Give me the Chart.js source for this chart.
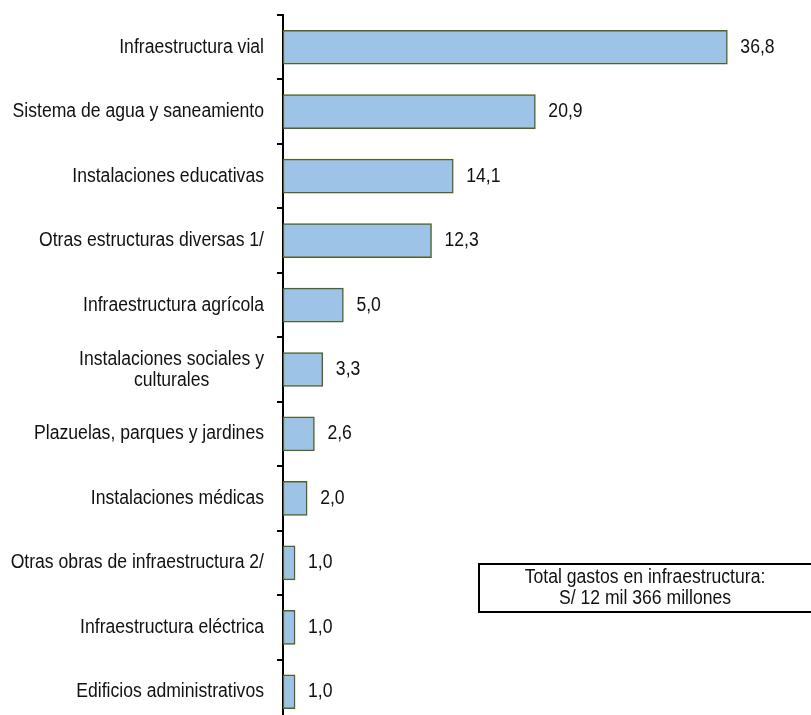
<!DOCTYPE html>
<html>
<head>
<meta charset="utf-8">
<script src="https://cdn.jsdelivr.net/npm/chart.js@4.4.0/dist/chart.umd.min.js"></script>
<style>
  html, body { margin: 0; padding: 0; background: #fff; overflow: hidden; }
  #wrap { position: relative; width: 811px; height: 724px; }
</style>
</head>
<body>
<div id="wrap">
  <canvas id="chart"></canvas>
</div>
<script>
const categories = [
  ["Infraestructura vial"],
  ["Sistema de agua y saneamiento"],
  ["Instalaciones educativas"],
  ["Otras estructuras diversas 1/"],
  ["Infraestructura agrícola"],
  ["Instalaciones sociales y", "culturales"],
  ["Plazuelas, parques y jardines"],
  ["Instalaciones médicas"],
  ["Otras obras de infraestructura 2/"],
  ["Infraestructura eléctrica"],
  ["Edificios administrativos"]
];
const shares = [36.8, 20.9, 14.1, 12.3, 5.0, 3.3, 2.6, 2.0, 1.0, 1.0, 1.0];
const noteLines = ["Total gastos en infraestructura:", "S/ 12 mil 366 millones"];
const xMax = 40;

const FONT = "20px 'Liberation Sans', Arial, sans-serif";
const SX = 0.88; // narrow look of the original text

function narrowText(ctx, text, x, y, align) {
  ctx.save();
  ctx.translate(x, y);
  ctx.scale(SX, 1);
  ctx.textAlign = align;
  ctx.fillText(text, 0, 0);
  ctx.restore();
}

// category labels, bar values and the note box drawn by hand
const textPlugin = {
  id: "textPlugin",
  afterDraw(chart) {
    const ctx = chart.ctx;
    const yScale = chart.scales.y;
    const meta = chart.getDatasetMeta(0);
    ctx.save();
    ctx.font = FONT;
    ctx.fillStyle = "#111";
    ctx.textBaseline = "middle";
    const right = yScale.right - 19;
    categories.forEach((lines, i) => {
      const cy = yScale.getPixelForValue(i);
      const lh = 21;
      const y0 = cy - (lines.length - 1) * lh / 2;
      const widest = Math.max(...lines.map(l => ctx.measureText(l).width)) * SX;
      const center = right - widest / 2;
      lines.forEach((l, j) => narrowText(ctx, l, center, y0 + j * lh, "center"));
    });
    meta.data.forEach((bar, i) => {
      narrowText(ctx, shares[i].toFixed(1).replace(".", ","), bar.x + 13, bar.y, "left");
    });

    // note box
    const bx = 479, by = 564, bw = 340, bh = 48;
    ctx.fillStyle = "#fff";
    ctx.fillRect(bx, by, bw, bh);
    ctx.strokeStyle = "#000";
    ctx.lineWidth = 2;
    ctx.strokeRect(bx, by, bw, bh);
    ctx.fillStyle = "#111";
    noteLines.forEach((l, j) => narrowText(ctx, l, 645, by + 13 + j * 21, "center"));
    ctx.restore();
  }
};

new Chart(document.getElementById("chart"), {
  type: "bar",
  data: {
    labels: categories,
    datasets: [{
      data: shares,
      backgroundColor: "#9dc3e6",
      borderColor: "#4f6228",
      borderWidth: 1.5,
      borderSkipped: false,
      barThickness: 34
    }]
  },
  options: {
    indexAxis: "y",
    responsive: true,
    maintainAspectRatio: false,
    animation: false,
    layout: { padding: { top: 15, right: 45, left: 0, bottom: 0 } },
    plugins: { legend: { display: false }, tooltip: { enabled: false } },
    scales: {
      x: { display: false, min: 0, max: xMax },
      y: {
        offset: true,
        ticks: { display: false },
        grid: {
          offset: true,
          drawOnChartArea: false,
          drawTicks: true,
          tickLength: 6,
          color: "#000",
          lineWidth: 2
        },
        border: { display: true, color: "#000", width: 2 },
        afterFit(scale) { scale.width = 283; }
      }
    }
  },
  plugins: [textPlugin]
});
</script>
</body>
</html>
